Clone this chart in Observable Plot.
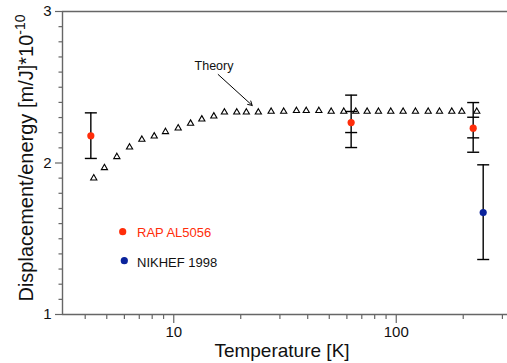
<!DOCTYPE html>
<html>
<head>
<meta charset="utf-8">
<script src="https://cdn.jsdelivr.net/npm/d3@7"></script>
<script src="https://cdn.jsdelivr.net/npm/@observablehq/plot@0.6"></script>
<style>
  html, body { margin: 0; padding: 0; background: #fff; }
  #chart { position: relative; width: 507px; height: 363px; font-family: "Liberation Sans", Arial, Helvetica, sans-serif; }
</style>
</head>
<body>
<div id="chart"></div>
<script>
// Theory curve (open triangles)
const theoryT = [4.37, 4.88, 5.55, 6.33, 7.19, 8.17, 9.18, 10.47, 11.9, 13.37, 15.14, 16.9, 19.2, 21.2, 24.0,
  27.4, 31.2, 35.6, 39.4, 44.9, 51.0, 58.1, 65.8, 74.0, 83.2, 94.5, 107.4, 122.0, 139.2, 156.5, 177.7, 197.1, 230.1];
const theoryV = [1.90, 1.968, 2.041, 2.104, 2.155, 2.177, 2.206, 2.230, 2.261, 2.289, 2.309, 2.335, 2.335, 2.335, 2.335,
  2.34, 2.34, 2.345, 2.345, 2.345, 2.34, 2.34, 2.34, 2.34, 2.34, 2.34, 2.34, 2.34, 2.34, 2.34, 2.34, 2.34, 2.34];

// RAP AL5056 measurements
const rapT = [4.24, 62.7, 221.7];
const rapV = [2.18, 2.267, 2.23];
const rapLo = [2.03, 2.102, 2.071];
const rapHi = [2.331, 2.448, 2.399];
const rapInT = [62.7, 221.7];
const rapInLo = [2.201, 2.166];
const rapInHi = [2.34, 2.302];

// NIKHEF 1998 measurement
const nikT = [245.9];
const nikV = [1.673];
const nikLo = [1.363];
const nikHi = [1.988];

// Axis ticks
const xMajor = [10, 100];
const xMinor = [4, 5, 6, 7, 8, 9, 20, 30, 40, 50, 60, 70, 80, 90, 200, 300];
const yMajor = [1, 2, 3];
const yMinor = [1.1, 1.2, 1.3, 1.4, 1.5, 1.6, 1.7, 1.8, 1.9, 2.1, 2.2, 2.3, 2.4, 2.5, 2.6, 2.7, 2.8, 2.9];

// Annotation
const noteText = ["Theory"];
const noteT = [15.17];
const noteV = [2.637];
const arrowFrom = [15.84, 2.584];
const arrowTo = [22.52, 2.380];

const legendLabels = ["RAP AL5056", "NIKHEF 1998"];

const RED = "#ff2d0a";
const BLUE = "#0a239c";
const AXIS = "#666";

const theory = theoryT.map((t, i) => ({t, v: theoryV[i]}));
const rap = rapT.map((t, i) => ({t, v: rapV[i], lo: rapLo[i], hi: rapHi[i]}));
const rapIn = rapInT.map((t, i) => ({t, lo: rapInLo[i], hi: rapInHi[i]}));
const nik = nikT.map((t, i) => ({t, v: nikV[i], lo: nikLo[i], hi: nikHi[i]}));
const bars = [...rap, ...nik];
const caps = [
  ...bars.flatMap(d => [{t: d.t, v: d.lo}, {t: d.t, v: d.hi}]),
  ...rapIn.flatMap(d => [{t: d.t, v: d.lo}, {t: d.t, v: d.hi}])
];
const capSymbol = {draw(ctx) { ctx.moveTo(-6, 0); ctx.lineTo(6, 0); }};

const xDomain = [Math.sqrt(10), Math.pow(10, 2.5)];

const plot = Plot.plot({
  width: 507,
  height: 363,
  marginLeft: 62,
  marginRight: 0,
  marginTop: 11,
  marginBottom: 49,
  style: {fontFamily: '"Liberation Sans", Arial, Helvetica, sans-serif', background: "white", overflow: "visible"},
  x: {type: "log", domain: xDomain},
  y: {domain: [1, 3]},
  marks: [
    Plot.axisX(xMajor, {tickSize: 9, tickPadding: 3, tickFormat: d => String(d), fontSize: 15, fill: "#111", stroke: AXIS, strokeWidth: 1.2, label: null}),
    Plot.axisX(xMinor, {tickSize: 5, text: null, stroke: AXIS, strokeWidth: 1.2, label: null}),
    Plot.axisY(yMajor, {tickSize: 7, tickPadding: 4, tickFormat: d => String(d), fontSize: 15, fill: "#111", stroke: AXIS, strokeWidth: 1.2, label: null}),
    Plot.axisY(yMinor, {tickSize: 3.5, text: null, stroke: AXIS, strokeWidth: 1.2, label: null}),
    Plot.ruleY([1, 3], {stroke: AXIS, strokeWidth: 1.4}),
    Plot.ruleX([xDomain[0]], {stroke: AXIS, strokeWidth: 1.4}),
    Plot.dot(theory, {x: "t", y: "v", symbol: "triangle", r: 2.3, stroke: "black", fill: "white", strokeWidth: 1.1}),
    Plot.ruleX(bars, {x: "t", y1: "lo", y2: "hi", stroke: "black", strokeWidth: 1.4}),
    Plot.dot(caps, {x: "t", y: "v", symbol: capSymbol, stroke: "black", fill: "none", strokeWidth: 1.4}),
    Plot.dot(rap, {x: "t", y: "v", r: 3.6, fill: RED}),
    Plot.dot(nik, {x: "t", y: "v", r: 3.6, fill: BLUE}),
    Plot.text(noteText, {x: noteT, y: noteV, text: d => d, fontSize: 12.5, fill: "#111"}),
    Plot.arrow([0], {x1: arrowFrom[0], y1: arrowFrom[1], x2: arrowTo[0], y2: arrowTo[1], stroke: "black", strokeWidth: 1, headLength: 7})
  ]
});

document.getElementById("chart").appendChild(plot);

const svg = d3.select(plot);
// Axis titles
svg.append("text")
  .attr("x", 282).attr("y", 357)
  .attr("text-anchor", "middle")
  .attr("font-size", 19)
  .attr("fill", "#111")
  .text("Temperature [K]");

const yl = svg.append("text")
  .attr("transform", "translate(33,158) rotate(-90)")
  .attr("text-anchor", "middle")
  .attr("font-size", 20)
  .attr("fill", "#111");
yl.append("tspan").text("Displacement/energy [m/J]*10");
yl.append("tspan").attr("font-size", 14).attr("dy", -8).text("-10");

// Legend
const legend = svg.append("g").attr("font-size", 13).attr("text-anchor", "start");
legend.append("circle").attr("cx", 122.7).attr("cy", 231.7).attr("r", 3.6).attr("fill", RED);
legend.append("text").attr("x", 137).attr("y", 236.5).attr("fill", RED).text(legendLabels[0]);
legend.append("circle").attr("cx", 124.3).attr("cy", 260.7).attr("r", 3.6).attr("fill", BLUE);
legend.append("text").attr("x", 137).attr("y", 266.5).attr("fill", "#111").text(legendLabels[1]);
</script>
</body>
</html>
